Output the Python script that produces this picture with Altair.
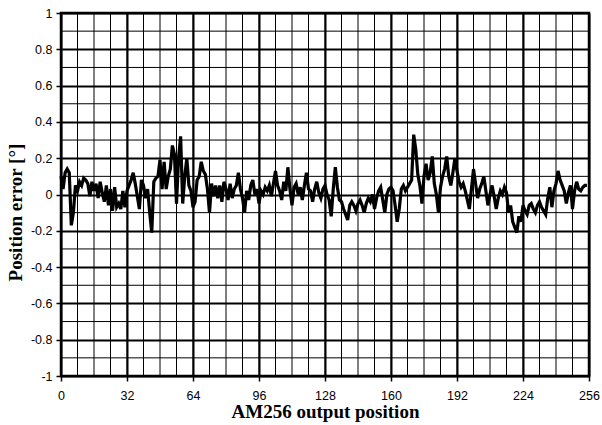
import altair as alt
import pandas as pd

position = list(range(256))
error = [
    0.10, 0.03, 0.12, 0.14, 0.12, -0.17, -0.10, 0.05,
    0.02, 0.07, 0.05, 0.09, 0.08, 0.06, -0.01, 0.07,
    0.02, 0.06, -0.02, 0.07, 0.01, -0.04, 0.05, -0.06,
    0.03, -0.09, 0.04, -0.07, -0.05, -0.08, 0.02, -0.07,
    0.02, 0.05, 0.08, 0.12, 0.06, -0.01, -0.08, 0.08,
    0.05, -0.02, 0.03, -0.10, -0.21, 0.07, 0.09, 0.10,
    0.19, 0.03, 0.18, 0.03, 0.10, 0.14, 0.27, 0.22,
    -0.05, 0.20, 0.32, -0.05, 0.10, 0.20, 0.05, 0.02,
    -0.07, -0.04, 0.08, 0.10, 0.18, 0.13, 0.11, 0.03,
    -0.10, 0.06, -0.01, 0.05, -0.02, 0.05, -0.04, 0.07,
    0.03, -0.03, 0.06, -0.02, 0.03, 0.05, 0.12, 0.03,
    -0.02, -0.10, 0.02, -0.03, 0.05, 0.08, 0.00, 0.03,
    -0.05, 0.02, 0.00, 0.04, 0.02, 0.05, -0.01, 0.06,
    0.13, 0.05, 0.02, -0.03, 0.07, 0.02, 0.15, 0.03,
    -0.06, 0.04, 0.06, 0.00, 0.04, -0.03, 0.05, 0.12,
    0.03, 0.02, -0.04, 0.03, 0.07, 0.01, -0.02, 0.03,
    0.05, 0.00, -0.03, -0.12, 0.03, 0.15, 0.04, -0.03,
    -0.04, -0.08, -0.11, -0.14, -0.06, -0.04, -0.06, -0.09,
    -0.05, -0.03, -0.06, -0.10, -0.05, -0.02, -0.04, 0.00,
    -0.08, -0.02, 0.02, 0.04, -0.03, -0.10, 0.00, 0.03,
    0.04, 0.02, -0.06, -0.15, -0.08, 0.03, 0.05, 0.02,
    0.04, 0.06, 0.08, 0.33, 0.25, 0.11, 0.05, -0.05,
    0.10, 0.17, 0.08, 0.12, 0.21, 0.06, 0.00, -0.10,
    0.04, 0.10, 0.14, 0.21, 0.10, 0.05, 0.12, 0.20,
    0.13, 0.07, 0.04, 0.06, 0.02, -0.03, -0.08, 0.03,
    0.14, 0.06, -0.02, 0.03, 0.06, 0.10, 0.02, -0.06,
    0.00, 0.05, -0.01, -0.08, -0.02, 0.02, 0.00, 0.04,
    0.01, -0.10, -0.06, -0.15, -0.18, -0.21, -0.12, -0.15,
    -0.06, -0.09, -0.11, -0.06, -0.05, -0.08, -0.10, -0.06,
    -0.04, -0.07, -0.09, -0.11, -0.02, 0.04, -0.07, 0.02,
    0.06, 0.13, 0.08, 0.05, 0.02, -0.05, 0.01, 0.05,
    -0.08, 0.02, 0.07, 0.03, 0.02, 0.04, 0.05, 0.05,
]

x_major = [0, 32, 64, 96, 128, 160, 192, 224, 256]
y_major = [-1, -0.8, -0.6, -0.4, -0.2, 0, 0.2, 0.4, 0.6, 0.8, 1]
x_minor = list(range(0, 257, 8))
y_minor = [-0.9, -0.7, -0.5, -0.3, -0.1, 0.1, 0.3, 0.5, 0.7, 0.9]

df = pd.DataFrame({"pos": position, "err": error})
xs = alt.Scale(domain=[0, 256], nice=False, zero=False)
ys = alt.Scale(domain=[-1, 1], nice=False, zero=False)

common = dict(
    grid=True,
    gridColor="black",
    gridWidth=2,
    gridOpacity=1,
    domain=False,
    tickColor="black",
    tickWidth=1.5,
    tickSize=5,
    labelFont="Liberation Sans",
    labelFontSize=12.5,
    labelColor="black",
    labelOverlap=False,
    labelFlush=False,
    titleFont="Liberation Serif",
    titleFontSize=19,
    titleFontWeight="bold",
    titleColor="black",
)

x_axis = alt.Axis(
    values=x_major,
    title="AM256 output position",
    labelPadding=8,
    titlePadding=1,
    **common,
)
y_axis = alt.Axis(
    values=y_major,
    labelExpr="'' + datum.value",
    title="Position error [°]",
    labelPadding=4,
    titleX=-46,
    titleY=199,
    titleAlign="center",
    titleBaseline="middle",
    **common,
)

vminor = alt.Chart(pd.DataFrame({"v": x_minor})).mark_rule(
    color="black", strokeWidth=1
).encode(x=alt.X("v:Q", scale=xs, axis=x_axis))

hminor = alt.Chart(pd.DataFrame({"v": y_minor})).mark_rule(
    color="black", strokeWidth=1
).encode(y=alt.Y("v:Q", scale=ys, axis=y_axis))

line = alt.Chart(df).mark_line(color="black", strokeWidth=3.2).encode(
    x=alt.X("pos:Q", scale=xs, axis=x_axis),
    y=alt.Y("err:Q", scale=ys, axis=y_axis),
)

chart = alt.layer(vminor, hminor, line).properties(
    width=528,
    height=363,
    autosize=alt.AutoSizeParams(type="none"),
    padding={"left": 61, "top": 13, "right": 12, "bottom": 49},
    background="white",
).configure_view(stroke="black", strokeWidth=2.5)

chart.save("out.html", embed_options={"renderer": "svg", "actions": False})
